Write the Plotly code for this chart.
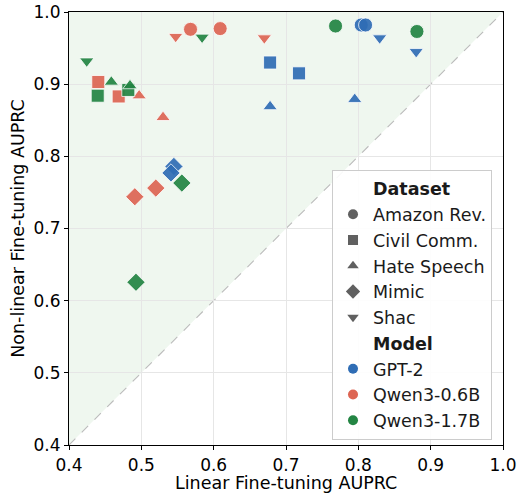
import plotly.graph_objects as go

datasets = ["Amazon Rev.", "Civil Comm.", "Hate Speech", "Mimic", "Shac"]
models = ["GPT-2", "Qwen3-0.6B", "Qwen3-1.7B"]

# (linear, non-linear) AUPRC pairs per model, two runs per dataset
gpt2_ds = ["Amazon Rev.", "Amazon Rev.", "Civil Comm.", "Civil Comm.", "Hate Speech", "Hate Speech",
           "Mimic", "Mimic", "Shac", "Shac"]
gpt2_x = [0.804, 0.810, 0.678, 0.718, 0.678, 0.795, 0.545, 0.541, 0.8295, 0.880]
gpt2_y = [0.982, 0.982, 0.930, 0.915, 0.869, 0.879, 0.786, 0.777, 0.964, 0.945]

q06_ds = gpt2_ds
q06_x = [0.568, 0.609, 0.4405, 0.4687, 0.497, 0.530, 0.520, 0.491, 0.5475, 0.670]
q06_y = [0.976, 0.977, 0.903, 0.883, 0.884, 0.854, 0.756, 0.744, 0.966, 0.964]

q17_ds = gpt2_ds
q17_x = [0.7685, 0.881, 0.4397, 0.482, 0.4585, 0.4843, 0.556, 0.4926, 0.4245, 0.584]
q17_y = [0.9806, 0.973, 0.884, 0.892, 0.903, 0.898, 0.763, 0.6255, 0.932, 0.965]

ticks = [0.4, 0.5, 0.6, 0.7, 0.8, 0.9, 1.0]

colors = {"GPT-2": "#2f6db5", "Qwen3-0.6B": "#dd6553", "Qwen3-1.7B": "#238543"}
symbols = {"Amazon Rev.": "circle", "Civil Comm.": "square", "Hate Speech": "triangle-up",
           "Mimic": "diamond", "Shac": "triangle-down"}
sizes = {"Amazon Rev.": 14, "Civil Comm.": 13, "Hate Speech": 12.5, "Mimic": 14, "Shac": 12.5}

fig = go.Figure()

# shaded region above diagonal and the diagonal itself
fig.add_shape(type="path", path="M 0.4 0.4 L 1.0 1.0 L 0.4 1.0 Z", xref="x", yref="y",
              fillcolor="#eff7ef", line=dict(width=0), layer="below")
fig.add_shape(type="line", x0=0.4, y0=0.4, x1=1.0, y1=1.0, xref="x", yref="y",
              line=dict(color="#bbbbbb", width=1.1, dash="dash"), layer="below")

series = [("GPT-2", gpt2_ds, gpt2_x, gpt2_y),
          ("Qwen3-0.6B", q06_ds, q06_x, q06_y),
          ("Qwen3-1.7B", q17_ds, q17_x, q17_y)]
for name, ds, xs, ys in series:
    fig.add_trace(go.Scatter(
        x=xs, y=ys, mode="markers", showlegend=False, name=name,
        marker=dict(color=colors[name], symbol=[symbols[d] for d in ds],
                    size=[sizes[d] for d in ds], opacity=0.92,
                    line=dict(color="white", width=0.8))))

# legend entries
fig.add_trace(go.Scatter(x=[None], y=[None], mode="markers", name="<b>Dataset</b>",
                         marker=dict(color="rgba(0,0,0,0)", size=1)))
for d in datasets:
    fig.add_trace(go.Scatter(x=[None], y=[None], mode="markers", name=d,
                             marker=dict(color="#606060", symbol=symbols[d], size=10 if d != "Mimic" else 11)))
fig.add_trace(go.Scatter(x=[None], y=[None], mode="markers", name="<b>Model</b>",
                         marker=dict(color="rgba(0,0,0,0)", size=1)))
for m in models:
    fig.add_trace(go.Scatter(x=[None], y=[None], mode="markers", name=m,
                             marker=dict(color=colors[m], symbol="circle", size=10)))

axis_common = dict(range=[0.4, 1.0], tickvals=ticks, ticktext=[f"{t:.1f}" for t in ticks],
                   showgrid=True, gridcolor="#e6e6e6", gridwidth=0.8,
                   showline=True, linecolor="black", linewidth=1.2, mirror=True,
                   ticks="outside", ticklen=4, tickcolor="black", tickwidth=1,
                   zeroline=False, automargin=True, tickfont=dict(size=17, color="black"))

fig.update_layout(
    width=517, height=493,
    margin=dict(l=69, r=14, t=12, b=48, autoexpand=False),
    paper_bgcolor="white", plot_bgcolor="white",
    font=dict(family="DejaVu Sans", size=17, color="black"),
    xaxis=dict(**axis_common),
    yaxis=dict(**axis_common, title=dict(text="Non-linear Fine-tuning AUPRC", font=dict(size=17.5), standoff=4)),
    legend=dict(x=0.606, y=0.636, xanchor="left", yanchor="top",
                bgcolor="rgba(255,255,255,0.9)", bordercolor="#cccccc", borderwidth=1,
                font=dict(size=17.5, color="#1a1a1a"), itemwidth=30, tracegroupgap=0),
    showlegend=True,
    annotations=[dict(text="Linear Fine-tuning AUPRC", xref="paper", yref="paper",
                      x=0.5, y=-50 / 433, xanchor="center", yanchor="bottom",
                      showarrow=False, font=dict(size=17.5, color="black"))],
)

fig.write_html("out.html")
